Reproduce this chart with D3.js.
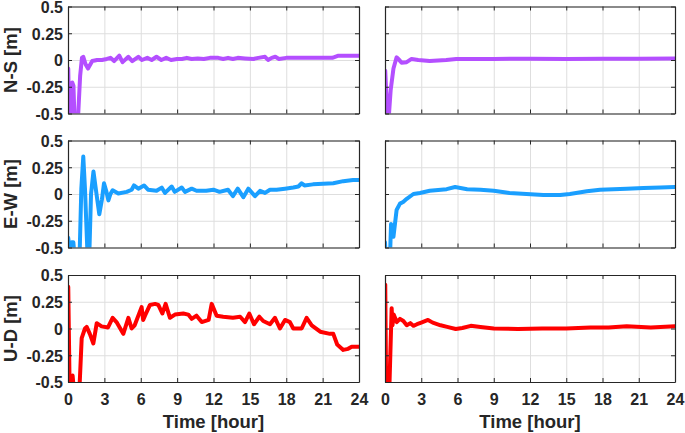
<!DOCTYPE html>
<html>
<head>
<meta charset="utf-8">
<script src="https://cdn.jsdelivr.net/npm/d3@7"></script>
<style>
  body { margin: 0; background: #fff; }
  svg { display: block; }
</style>
</head>
<body>
<div id="chart"></div>
<script>
// Parameters
var width = 685,
    height = 433;

// Axis ticks
var hourTicks = [0, 3, 6, 9, 12, 15, 18, 21, 24];
var metreTicks = [-0.5, -0.25, 0, 0.25, 0.5];
var metreTickLabels = ["-0.5", "-0.25", "0", "0.25", "0.5"];
var rowLabels = ["N-S [m]", "E-W [m]", "U-D [m]"];
var xLabel = "Time [hour]";

// N-S, left column
var nsLeftT = [0, 0.02, 0.1, 0.25, 0.35, 0.45, 0.55, 0.8, 1.0, 1.15, 1.26, 1.45, 1.65, 2.0, 2.4, 2.8, 3.2, 3.5, 3.8, 4.23, 4.5, 4.98, 5.3, 5.8, 6.1, 6.54, 6.9, 7.3, 7.7, 8.1, 8.5, 9.0, 9.4, 9.8, 10.2, 10.7, 11.2, 11.7, 12.4, 12.8, 13.2, 13.6, 14.0, 14.6, 15.3, 15.7, 16.25, 16.5, 16.8, 17.1, 17.4, 18.0, 19.0, 20.0, 21.0, 21.8, 22.3, 23.0, 24];
var nsLeftV = [-0.42, -0.08, -0.55, -0.55, -0.21, -0.24, -0.6, -0.6, -0.15, 0.02, 0.03, -0.04, -0.08, -0.01, 0.0, 0.0, 0.01, 0.02, -0.01, 0.04, -0.02, 0.03, -0.01, 0.03, 0.0, 0.02, 0.0, 0.03, 0.0, 0.02, 0.0, 0.01, 0.01, 0.02, 0.01, 0.015, 0.01, 0.02, 0.02, 0.01, 0.02, 0.01, 0.02, 0.015, 0.01, 0.02, 0.03, 0.0, 0.02, 0.03, 0.01, 0.02, 0.02, 0.02, 0.02, 0.02, 0.04, 0.04, 0.04];

// N-S, right column
var nsRightT = [0, 0.02, 0.1, 0.27, 0.47, 0.7, 0.96, 1.1, 1.37, 1.79, 2.2, 2.75, 3.7, 5.07, 5.9, 7, 9, 12, 15, 18, 21, 24];
var nsRightV = [-0.44, -0.1, -0.3, -0.6, -0.28, -0.08, 0.025, 0.01, -0.025, -0.02, 0.01, 0.0, -0.01, 0.0, 0.01, 0.01, 0.01, 0.012, 0.01, 0.012, 0.012, 0.015];

// E-W, left column
var ewLeftT = [0, 0.02, 0.15, 0.3, 0.44, 0.55, 0.75, 0.95, 1.1, 1.26, 1.4, 1.62, 1.75, 1.9, 2.1, 2.35, 2.58, 2.8, 2.97, 3.15, 3.33, 3.5, 3.68, 4.15, 4.84, 5.25, 5.44, 5.8, 6.27, 6.6, 7.3, 7.73, 8.0, 8.55, 8.8, 9.38, 9.65, 10.2, 10.6, 11.4, 11.99, 12.5, 13.2, 13.6, 14.0, 14.46, 14.87, 15.42, 15.84, 16.25, 16.66, 17.2, 17.9, 18.58, 19.0, 19.27, 19.5, 20.2, 21.88, 22.7, 23.5, 24];
var ewLeftV = [-0.5, -0.41, -0.55, -0.45, -0.45, -0.6, -0.6, -0.6, 0.05, 0.35, 0.05, -0.6, -0.6, 0.0, 0.21, 0.0, -0.19, -0.05, 0.1, 0.03, -0.06, 0.0, 0.035, 0.005, 0.02, 0.04, 0.08, 0.05, 0.08, 0.04, 0.03, 0.06, 0.01, 0.07, 0.02, 0.06, 0.02, 0.05, 0.03, 0.03, 0.04, 0.02, 0.04, -0.02, 0.05, -0.03, 0.05, -0.02, 0.03, 0.01, 0.04, 0.04, 0.05, 0.06, 0.07, 0.1, 0.08, 0.09, 0.1, 0.12, 0.13, 0.13];

// E-W, right column
var ewRightT = [0, 0.02, 0.1, 0.41, 0.5, 0.7, 0.96, 1.24, 1.5, 1.8, 2.35, 2.9, 3.7, 5.1, 5.8, 6.8, 7.9, 9.0, 10.3, 11.7, 13.1, 14.5, 15.3, 16.7, 17.8, 18.9, 20.0, 21.4, 22.8, 24];
var ewRightV = [-0.45, -0.5, -0.6, -0.6, -0.28, -0.4, -0.15, -0.09, -0.075, -0.045, 0.0, 0.01, 0.03, 0.045, 0.065, 0.045, 0.04, 0.03, 0.01, 0.0, -0.01, -0.01, 0.0, 0.025, 0.04, 0.045, 0.05, 0.055, 0.06, 0.065];

// U-D, left column
var udLeftT = [0, 0.02, 0.14, 0.3, 0.38, 0.5, 0.93, 1.13, 1.4, 1.54, 1.8, 2.09, 2.37, 2.77, 3.3, 3.68, 4.0, 4.56, 4.98, 5.25, 5.5, 6.07, 6.2, 6.35, 6.76, 7.18, 7.45, 7.78, 8.05, 8.41, 8.82, 9.51, 9.92, 10.2, 10.6, 11.03, 11.6, 11.85, 12.26, 12.8, 13.6, 14.2, 14.6, 14.95, 15.34, 15.78, 16.1, 16.66, 17.07, 17.48, 17.9, 18.3, 18.58, 19.27, 19.68, 20.1, 20.8, 21.6, 21.88, 22.2, 22.7, 23.1, 23.4, 24];
var udLeftV = [0.39, 0.39, -0.6, -0.6, -0.44, -0.6, -0.6, -0.09, 0.0, 0.015, -0.05, -0.14, 0.05, 0.02, 0.01, 0.1, 0.06, -0.05, 0.1, 0.0, 0.03, 0.2, 0.08, 0.12, 0.22, 0.23, 0.22, 0.14, 0.23, 0.1, 0.13, 0.14, 0.13, 0.09, 0.12, 0.06, 0.08, 0.23, 0.12, 0.11, 0.1, 0.11, 0.06, 0.14, 0.04, 0.11, 0.07, 0.04, 0.1, 0.0, 0.08, 0.06, 0.0, 0.0, 0.1, 0.03, -0.03, -0.05, -0.05, -0.15, -0.2, -0.19, -0.17, -0.17];

// U-D, right column
var udRightT = [0, 0.02, 0.1, 0.35, 0.55, 0.62, 0.72, 0.97, 1.24, 1.52, 1.8, 2.1, 2.35, 2.65, 3.0, 3.56, 3.95, 4.6, 5.15, 5.85, 6.4, 7.1, 7.9, 9.0, 11.0, 13.0, 15.0, 17.0, 18.5, 20.0, 22.0, 24];
var udRightV = [0.41, 0.41, -0.6, -0.6, 0.19, 0.03, 0.13, 0.06, 0.09, 0.07, 0.03, 0.05, 0.025, 0.04, 0.055, 0.08, 0.055, 0.03, 0.015, -0.005, 0.005, 0.025, 0.015, 0.0, -0.005, 0.0, 0.0, 0.01, 0.01, 0.02, 0.01, 0.02];

var rowColors = ["#b44fff", "#1a9fff", "#ff0000"];
var panelData = [
  [[nsLeftT, nsLeftV], [nsRightT, nsRightV]],
  [[ewLeftT, ewLeftV], [ewRightT, ewRightV]],
  [[udLeftT, udLeftV], [udRightT, udRightV]]
];

// Layout
var colX = [68, 385],
    colW = [291, 290],
    rowY = [6.5, 140.5, 275],
    panelH = 107,
    axisColor = "#262626",
    gridColor = "#dedede",
    fontFamily = "Arial, 'Liberation Sans', sans-serif";

var svg = d3.select("#chart")
  .append("svg")
  .attr("width", width)
  .attr("height", height)
  .style("font-family", fontFamily);

panelData.forEach(function(row, r) {
  row.forEach(function(series, c) {
    var w = colW[c], h = panelH;
    var x = d3.scaleLinear().domain([0, 24]).range([0, w]);
    var y = d3.scaleLinear().domain([-0.5, 0.5]).range([h, 0]);

    var g = svg.append("g")
      .attr("transform", "translate(" + colX[c] + "," + rowY[r] + ")");

    var clipId = "clip-" + r + "-" + c;
    g.append("clipPath").attr("id", clipId)
      .append("rect").attr("width", w).attr("height", h);

    // grid
    g.append("g")
      .attr("transform", "translate(0," + h + ")")
      .call(d3.axisBottom(x).tickValues(hourTicks).tickSize(-h).tickFormat(""))
      .call(function(s) { s.select(".domain").remove(); s.selectAll("line").attr("stroke", gridColor); });
    g.append("g")
      .call(d3.axisLeft(y).tickValues(metreTicks).tickSize(-w).tickFormat(""))
      .call(function(s) { s.select(".domain").remove(); s.selectAll("line").attr("stroke", gridColor); });

    // series
    var pts = series[0].map(function(t, i) { return [t, series[1][i]]; });
    g.append("path")
      .datum(pts)
      .attr("clip-path", "url(#" + clipId + ")")
      .attr("fill", "none")
      .attr("stroke", rowColors[r])
      .attr("stroke-width", 4)
      .attr("stroke-linejoin", "round")
      .attr("stroke-linecap", "round")
      .attr("d", d3.line().x(function(d) { return x(d[0]); }).y(function(d) { return y(d[1]); }));

    // axes with inward ticks
    var left = g.append("g")
      .call(d3.axisLeft(y).tickValues(metreTicks).tickSize(-4).tickSizeOuter(0).tickPadding(5)
        .tickFormat(function(d, i) { return c === 0 ? metreTickLabels[i] : ""; }));
    var right = g.append("g")
      .attr("transform", "translate(" + w + ",0)")
      .call(d3.axisRight(y).tickValues(metreTicks).tickSize(-4).tickSizeOuter(0).tickFormat(""));
    var top = g.append("g")
      .call(d3.axisTop(x).tickValues(hourTicks).tickSize(-4).tickSizeOuter(0).tickFormat(""));
    var bottom = g.append("g")
      .attr("transform", "translate(0," + h + ")")
      .call(d3.axisBottom(x).tickValues(hourTicks).tickSize(-4).tickSizeOuter(0).tickPadding(9)
        .tickFormat(function(d) { return r === 2 ? d : ""; }));

    [left, right, top, bottom].forEach(function(a) {
      a.select(".domain").attr("stroke", axisColor).attr("stroke-width", 1.2);
      a.selectAll(".tick line").attr("stroke", axisColor);
      a.selectAll("text")
        .attr("fill", axisColor)
        .style("font-size", "16px")
        .style("font-weight", "bold")
        .style("font-family", fontFamily);
    });
    left.selectAll("text").attr("dy", "0.36em");
    bottom.selectAll("text").attr("dy", "0.9em");

    // row label
    if (c === 0) {
      svg.append("text")
        .attr("transform", "translate(17," + (rowY[r] + h / 2) + ") rotate(-90)")
        .attr("text-anchor", "middle")
        .attr("fill", axisColor)
        .style("font-size", "18.5px")
        .style("font-weight", "bold")
        .text(rowLabels[r]);
    }
    // x label
    if (r === 2) {
      svg.append("text")
        .attr("x", colX[c] + w / 2)
        .attr("y", 428)
        .attr("text-anchor", "middle")
        .attr("fill", axisColor)
        .style("font-size", "18.5px")
        .style("font-weight", "bold")
        .text(xLabel);
    }
  });
});
</script>
</body>
</html>
